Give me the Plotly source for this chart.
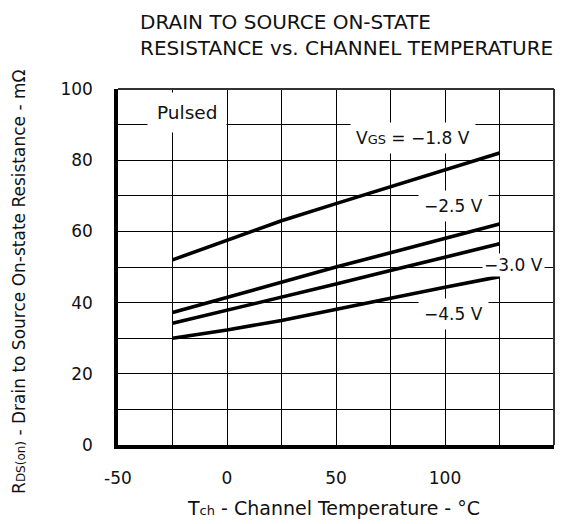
import plotly.graph_objects as go

temps = [-25, 0, 25, 50, 75, 100, 125]
r_18 = [52, 57.5, 63, 67.8, 72.6, 77.3, 82]
r_25 = [37.2, 41.5, 45.8, 50, 54, 58.1, 62.1]
r_30 = [34.2, 37.8, 41.5, 45.2, 49, 52.8, 56.5]
r_45 = [30, 32.3, 35, 38, 41.2, 44.3, 47.3]

x_tickvals = [-50, 0, 50, 100, 150]
x_ticktext = ["-50", "0", "50", "100", "150"]
y_tickvals = [0, 20, 40, 60, 80, 100]
y_ticktext = ["0", "20", "40", "60", "80", "100"]

curve_labels = ["V<span style='font-size:13px'>GS</span> = \u22121.8 V", "\u22122.5 V", "\u22123.0 V", "\u22124.5 V"]

FONT = "DejaVu Sans, Liberation Sans, sans-serif"
TXT = "#111"

fig = go.Figure()
for ys in [r_18, r_25, r_30, r_45]:
    fig.add_trace(go.Scatter(x=temps, y=ys, mode="lines",
                             line=dict(color="black", width=3.6), showlegend=False))

# curve labels (position, padding)
label_style = [(85.5, 86.3, 5), (104, 67, 5), (131.5, 50.7, 1), (104, 36.8, 5)]
for t, (xx, yy, pad) in zip(curve_labels, label_style):
    fig.add_annotation(x=xx, y=yy, text=t, showarrow=False, bgcolor="white",
                       font=dict(family=FONT, size=17, color=TXT), borderpad=pad)

fig.add_annotation(x=-18.5, y=93.3, text="Pulsed", showarrow=False, bgcolor="white",
                   font=dict(family=FONT, size=18.5, color=TXT), borderpad=9)

# chart title
fig.add_annotation(xref="paper", yref="paper", x=0.045, y=1.2275, xanchor="left", yanchor="top",
                   align="left", showarrow=False,
                   text="DRAIN TO SOURCE ON-STATE<br>RESISTANCE vs. CHANNEL TEMPERATURE",
                   font=dict(family=FONT, size=20, color=TXT))

# axis titles
fig.add_annotation(xref="paper", yref="paper", x=0.495, y=-0.177, xanchor="center", yanchor="middle",
                   showarrow=False,
                   text="T<span style='font-size:13px'>ch</span> - Channel Temperature - \u00b0C",
                   font=dict(family=FONT, size=19, color=TXT))
fig.add_annotation(xref="paper", yref="paper", x=-0.2271, y=0.458, xanchor="center", yanchor="middle",
                   showarrow=False, textangle=-90,
                   text="R<span style='font-size:12px'>DS(on)</span> - Drain to Source On-state Resistance - m\u03a9",
                   font=dict(family=FONT, size=17, color=TXT))

# thin top/right frame
fig.add_shape(type="line", xref="paper", yref="paper", x0=0, x1=1, y0=1, y1=1,
              line=dict(color="#333", width=2))
fig.add_shape(type="line", xref="paper", yref="paper", x0=1, x1=1, y0=0, y1=1,
              line=dict(color="#333", width=2))

# page body has an 8px margin, so the figure is offset by 8px inside the window
fig.update_layout(
    width=561, height=516,
    margin=dict(l=110, r=15, t=81, b=79),
    paper_bgcolor="white", plot_bgcolor="white",
    font=dict(family=FONT, size=17, color=TXT),
    xaxis=dict(range=[-50, 150], tickvals=x_tickvals, ticktext=x_ticktext,
               showgrid=True, gridcolor="black", gridwidth=1.2,
               minor=dict(dtick=25, tick0=-50, showgrid=True, gridcolor="black", gridwidth=1.2),
               showline=True, linecolor="black", linewidth=3.5, zeroline=False,
               ticks="", ticklabelstandoff=15, automargin=False),
    yaxis=dict(range=[0, 100], tickvals=y_tickvals, ticktext=y_ticktext,
               showgrid=True, gridcolor="black", gridwidth=1.2,
               minor=dict(dtick=10, showgrid=True, gridcolor="black", gridwidth=1.2),
               showline=True, linecolor="black", linewidth=3.5, zeroline=False,
               ticks="", ticklabelstandoff=18, automargin=False),
)

fig.write_html("out.html")
